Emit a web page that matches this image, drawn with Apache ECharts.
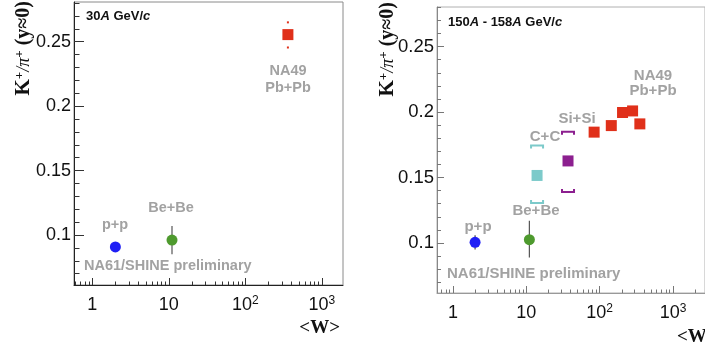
<!DOCTYPE html>
<html>
<head>
<meta charset="utf-8">
<script src="https://cdn.jsdelivr.net/npm/echarts@6/dist/echarts.min.js"></script>
<style>
  html, body { margin: 0; padding: 0; background: #fff; }
  #chart { width: 705px; height: 349px; }
</style>
</head>
<body>
<div id="chart"></div>
<script>
// ---- data: 30A GeV/c panel ----
const pp30 = [[2, 0.0907]];
const bebe30 = [[11, 0.0961]];
const bebe30Err = [[11, 0.085, 0.107]];
const pbpb30 = [[360, 0.2555]];
const pbpb30Err = [[360, 0.2455, 0.2650]];

// ---- data: 150A - 158A GeV/c panel ----
const pp158 = [[2, 0.1005]];
const pp158Err = [[2, 0.095, 0.106]];
const bebe158 = [[11, 0.1025]];
const bebe158Err = [[11, 0.089, 0.117]];
const cc158 = [[14, 0.1516]];
const cc158Sys = [[14, 0.1305, 0.1745]];
const sisi158 = [[37, 0.1627]];
const sisi158Sys = [[37, 0.139, 0.185]];
const pbpb158W = [84, 144, 205, 281, 353];
const pbpb158R = [0.1847, 0.1897, 0.1997, 0.2009, 0.1910];

// ---- ticks ----
const xMajor = [1, 10, 100, 1000];
const xMinor = [0.6, 0.7, 0.8, 0.9, 2, 3, 4, 5, 6, 7, 8, 9,
  20, 30, 40, 50, 60, 70, 80, 90, 200, 300, 400, 500, 600, 700, 800, 900, 2000];
const yMajor = [0.1, 0.15, 0.2, 0.25];
const yMinor = [0.07, 0.08, 0.09, 0.11, 0.12, 0.13, 0.14, 0.16, 0.17, 0.18, 0.19,
  0.21, 0.22, 0.23, 0.24, 0.26, 0.27, 0.28];

const GREY = '#a2a2a2';
const RED = '#e0301a';

const chart = echarts.init(document.getElementById('chart'));

function xLabel(v) {
  if (v === 100) return '{n|10}{s|2}';
  if (v === 1000) return '{n|10}{s|3}';
  return '{n|' + v + '}';
}

function errorBar(color, width) {
  return function (params, api) {
    const x = api.value(0);
    const a = api.coord([x, api.value(1)]);
    const b = api.coord([x, api.value(2)]);
    return {
      type: 'line',
      shape: { x1: a[0], y1: a[1], x2: b[0], y2: b[1] },
      style: { stroke: color, lineWidth: width }
    };
  };
}

// only the end dots of the error bar show in the reference
function errorDots(color) {
  return function (params, api) {
    const x = api.value(0);
    const a = api.coord([x, api.value(1)]);
    const b = api.coord([x, api.value(2)]);
    return {
      type: 'group',
      children: [
        { type: 'rect', shape: { x: a[0] - 1, y: a[1] - 1, width: 2, height: 2 }, style: { fill: color } },
        { type: 'rect', shape: { x: b[0] - 1, y: b[1] - 1, width: 2, height: 2 }, style: { fill: color } }
      ]
    };
  };
}

function bracket(color) {
  return function (params, api) {
    const x = api.value(0);
    const lo = api.coord([x, api.value(1)]);
    const hi = api.coord([x, api.value(2)]);
    const w = 6, h = 3;
    const st = { stroke: color, lineWidth: 2, fill: null };
    return {
      type: 'group',
      children: [
        { type: 'polyline', shape: { points: [[hi[0] - w, hi[1] + h], [hi[0] - w, hi[1]], [hi[0] + w, hi[1]], [hi[0] + w, hi[1] + h]] }, style: st },
        { type: 'polyline', shape: { points: [[lo[0] - w, lo[1] - h], [lo[0] - w, lo[1]], [lo[0] + w, lo[1]], [lo[0] + w, lo[1] - h]] }, style: st }
      ]
    };
  };
}

function xAxes(grid, min, max, lineColor, tickColor) {
  return [
    {
      gridIndex: grid, type: 'log', logBase: 10, min: min, max: max, position: 'bottom',
      axisLine: { show: true, onZero: false, lineStyle: { color: lineColor, width: 1 } },
      axisTick: { show: true, inside: true, length: 7, customValues: xMajor, lineStyle: { color: tickColor, width: 1 } },
      axisLabel: {
        customValues: xMajor, margin: 10, formatter: xLabel, color: '#111',
        rich: {
          n: { fontFamily: 'Liberation Sans', fontSize: 18, lineHeight: 20, color: '#111' },
          s: { fontFamily: 'Liberation Sans', fontSize: 12, verticalAlign: 'top', color: '#111' }
        }
      },
      splitLine: { show: false }
    },
    {
      gridIndex: grid, type: 'log', logBase: 10, min: min, max: max, position: 'bottom',
      axisLine: { show: false, onZero: false },
      axisTick: { show: true, inside: true, length: 3.5, customValues: xMinor, lineStyle: { color: tickColor, width: 1 } },
      axisLabel: { show: false },
      splitLine: { show: false }
    }
  ];
}

function yAxes(grid, min, max, lineColor, tickColor, fs, majorLen, minorLen) {
  return [
    {
      gridIndex: grid, type: 'value', min: min, max: max, position: 'left',
      axisLine: { show: true, onZero: false, lineStyle: { color: lineColor, width: 1 } },
      axisTick: { show: true, inside: true, length: majorLen, customValues: yMajor, lineStyle: { color: tickColor, width: 1 } },
      axisLabel: {
        customValues: yMajor, margin: 3, color: '#111',
        fontFamily: 'Liberation Sans', fontSize: fs,
        formatter: v => String(Math.round(v * 100) / 100)
      },
      splitLine: { show: false }
    },
    {
      gridIndex: grid, type: 'value', min: min, max: max, position: 'left',
      axisLine: { show: false, onZero: false },
      axisTick: { show: true, inside: true, length: minorLen, customValues: yMinor, lineStyle: { color: tickColor, width: 1 } },
      axisLabel: { show: false },
      splitLine: { show: false }
    }
  ];
}

function note(text, x, y, align, fs) {
  return {
    type: 'text', x: x, y: y, z: 50,
    style: {
      text: text, fill: GREY, fontFamily: 'Liberation Sans', fontWeight: 'bold',
      fontSize: fs || 14.5, align: align || 'center', verticalAlign: 'middle'
    }
  };
}

function energyLabel(parts, x, y) {
  return {
    type: 'text', x: x, y: y, z: 50,
    style: {
      text: parts, align: 'left', verticalAlign: 'middle',
      rich: {
        b: { fontFamily: 'Liberation Sans', fontWeight: 'bold', fontSize: 13, fill: '#111' },
        i: { fontFamily: 'Liberation Sans', fontWeight: 'bold', fontStyle: 'italic', fontSize: 13, fill: '#111' }
      }
    }
  };
}

function yTitle(x, y) {
  return {
    type: 'text', x: x, y: y, rotation: Math.PI / 2, z: 50,
    style: {
      text: '{k|K}{p|+}{t|/π}{p|+}{u| (y≈0)}',
      align: 'right', verticalAlign: 'middle',
      rich: {
        k: { fontFamily: 'Liberation Serif', fontWeight: 'bold', fontSize: 21, fill: '#111' },
        p: { fontFamily: 'Liberation Serif', fontWeight: 'bold', fontSize: 13, verticalAlign: 'top', fill: '#111' },
        t: { fontFamily: 'Liberation Serif', fontStyle: 'italic', fontSize: 18, fill: '#111' },
        u: { fontFamily: 'Liberation Serif', fontWeight: 'bold', fontSize: 20, fill: '#111' }
      }
    }
  };
}

function xTitle(x, y, align) {
  return {
    type: 'text', x: x, y: y, z: 50,
    style: {
      text: '<W>', fill: '#111', fontFamily: 'Liberation Serif', fontWeight: 'bold',
      fontSize: 19, align: align, verticalAlign: 'middle'
    }
  };
}

const option = {
  backgroundColor: '#fff',
  animation: false,
  grid: [
    { left: 74, top: 2, width: 269, height: 283, show: true, borderColor: '#8a8a8a', borderWidth: 1, backgroundColor: 'transparent' },
    { left: 437, top: 7, width: 285, height: 286, show: true, borderColor: '#b0b0b0', borderWidth: 1, backgroundColor: 'transparent' }
  ],
  xAxis: [
    ...xAxes(0, 0.576, 1890, '#222', '#333'),
    ...xAxes(1, 0.605, 2730, '#999', '#777')
  ],
  yAxis: [
    ...yAxes(0, 0.0612, 0.2808, '#222', '#333', 18, 10, 5.5),
    ...yAxes(1, 0.0618, 0.2803, '#888', '#777', 18.5, 7, 4)
  ],
  series: [
    // left panel
    { type: 'custom', xAxisIndex: 0, yAxisIndex: 0, data: bebe30Err, renderItem: errorBar('#555', 1.2), encode: { x: 0, y: [1, 2] }, z: 2 },
    { type: 'custom', xAxisIndex: 0, yAxisIndex: 0, data: pbpb30Err, renderItem: errorDots(RED), encode: { x: 0, y: [1, 2] }, z: 2 },
    { type: 'scatter', xAxisIndex: 0, yAxisIndex: 0, data: pp30, symbol: 'circle', symbolSize: 11, itemStyle: { color: '#1f1ff5', opacity: 1 }, z: 5 },
    { type: 'scatter', xAxisIndex: 0, yAxisIndex: 0, data: bebe30, symbol: 'circle', symbolSize: 11, itemStyle: { color: '#4e9a2e', opacity: 1 }, z: 5 },
    { type: 'scatter', xAxisIndex: 0, yAxisIndex: 0, data: pbpb30, symbol: 'rect', symbolSize: 11, itemStyle: { color: RED, opacity: 1 }, z: 5 },
    // right panel
    { type: 'custom', xAxisIndex: 2, yAxisIndex: 2, data: pp158Err, renderItem: errorBar('#444', 1.2), encode: { x: 0, y: [1, 2] }, z: 2 },
    { type: 'custom', xAxisIndex: 2, yAxisIndex: 2, data: bebe158Err, renderItem: errorBar('#555', 1.2), encode: { x: 0, y: [1, 2] }, z: 2 },
    { type: 'custom', xAxisIndex: 2, yAxisIndex: 2, data: cc158Sys, renderItem: bracket('#7ccaca'), encode: { x: 0, y: [1, 2] }, z: 2 },
    { type: 'custom', xAxisIndex: 2, yAxisIndex: 2, data: sisi158Sys, renderItem: bracket('#8c1f8f'), encode: { x: 0, y: [1, 2] }, z: 2 },
    { type: 'scatter', xAxisIndex: 2, yAxisIndex: 2, data: pp158, symbol: 'circle', symbolSize: 11, itemStyle: { color: '#1f1ff5', opacity: 1 }, z: 5 },
    { type: 'scatter', xAxisIndex: 2, yAxisIndex: 2, data: bebe158, symbol: 'circle', symbolSize: 11, itemStyle: { color: '#4e9a2e', opacity: 1 }, z: 5 },
    { type: 'scatter', xAxisIndex: 2, yAxisIndex: 2, data: cc158, symbol: 'rect', symbolSize: 11, itemStyle: { color: '#7ccaca', opacity: 1 }, z: 5 },
    { type: 'scatter', xAxisIndex: 2, yAxisIndex: 2, data: sisi158, symbol: 'rect', symbolSize: 11, itemStyle: { color: '#8c1f8f', opacity: 1 }, z: 5 },
    {
      type: 'scatter', xAxisIndex: 2, yAxisIndex: 2, symbol: 'rect', symbolSize: 11,
      data: pbpb158W.map((w, i) => [w, pbpb158R[i]]), itemStyle: { color: RED, opacity: 1 }, z: 5
    }
  ],
  graphic: [
    energyLabel('{b|30}{i|A}{b| GeV/}{i|c}', 86, 16),
    note('NA49', 288, 71), note('Pb+Pb', 288, 88),
    note('p+p', 115, 225), note('Be+Be', 171, 208),
    note('NA61/SHINE preliminary', 84, 266, 'left'),
    yTitle(24, 1),
    xTitle(340, 328, 'right'),

    energyLabel('{b|150}{i|A}{b| - 158}{i|A}{b| GeV/}{i|c}', 448, 22),
    note('NA49', 653, 76, 'center', 15), note('Pb+Pb', 653, 91, 'center', 15),
    note('Si+Si', 577, 119, 'center', 15), note('C+C', 545, 137, 'center', 15),
    note('Be+Be', 536, 211, 'center', 15), note('p+p', 478, 227, 'center', 15),
    note('NA61/SHINE preliminary', 447, 274, 'left', 15),
    yTitle(388, 2),
    xTitle(677, 337, 'left')
  ]
};

chart.setOption(option);
</script>
</body>
</html>
